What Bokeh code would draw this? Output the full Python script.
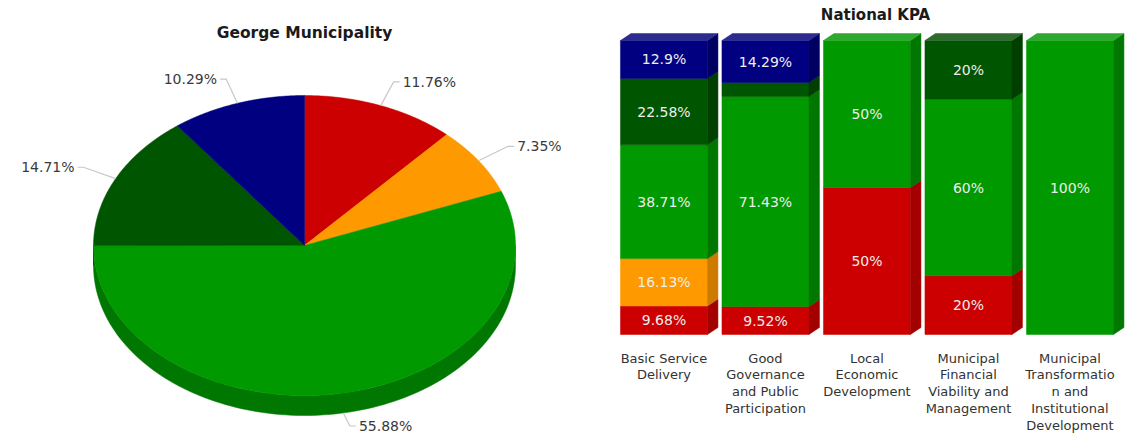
import numpy as np
from bokeh.plotting import figure
from bokeh.models import Range1d, ColumnDataSource
from bokeh.layouts import row
from bokeh.core.properties import value
from bokeh.embed import file_html
from bokeh.resources import INLINE

# ---- data -------------------------------------------------------------
statuses = ["Not Met", "Almost Met", "Met", "Well Met", "Extremely Well Met"]
front_colors = ["#CC0000", "#FF9900", "#009900", "#005500", "#000080"]
side_colors = ["#A30000", "#CC7A00", "#007700", "#003F00", "#000062"]
top_colors = ["#D83A3A", "#FFAD33", "#2EA82E", "#2F6B2F", "#2B2B90"]

# overall share of KPIs per status (George Municipality)
pie_values = [11.76, 7.35, 55.88, 14.71, 10.29]

# share of KPIs per status, per National KPA
kpas = [
    "Basic Service\nDelivery",
    "Good\nGovernance\nand Public\nParticipation",
    "Local\nEconomic\nDevelopment",
    "Municipal\nFinancial\nViability and\nManagement",
    "Municipal\nTransformatio\nn and\nInstitutional\nDevelopment",
]
not_met = [9.68, 9.52, 50, 20, 0]
almost_met = [16.13, 0, 0, 0, 0]
met = [38.71, 71.43, 50, 60, 100]
well_met = [22.58, 4.76, 0, 20, 0]
extremely_well_met = [12.9, 14.29, 0, 0, 0]
series = [not_met, almost_met, met, well_met, extremely_well_met]

FONT = "DejaVu Sans"
H = 435

# ---- pie (pseudo 3D, drawn in pixel-like units) -----------------------
PW = 605
pie = figure(width=PW, height=H, x_range=Range1d(0, PW), y_range=Range1d(H, 0),
             output_backend="svg", toolbar_location=None, min_border=0)
pie.axis.visible = False
pie.grid.visible = False
pie.outline_line_color = None

cx, cy, rx, ry, depth = 304, 245, 211, 150, 20
fracs = np.array(pie_values) / sum(pie_values)
starts = np.concatenate([[0], np.cumsum(fracs)[:-1]]) * 2 * np.pi
ends = np.cumsum(fracs) * 2 * np.pi


def ex(t, k=1.0):
    return cx + k * rx * np.sin(t)


def ey(t, k=1.0):
    return cy - k * ry * np.cos(t)


# visible rim: lower half of the ellipse (angles pi/2 .. 3pi/2, clockwise from top)
for a, b, c in zip(starts, ends, side_colors):
    lo, hi = max(a, np.pi / 2), min(b, 3 * np.pi / 2)
    if hi <= lo:
        continue
    t = np.linspace(lo, hi, 120)
    xs = list(ex(t)) + list(ex(t[::-1]))
    ys = list(ey(t)) + list(ey(t[::-1]) + depth)
    pie.patch(xs, ys, fill_color=c, line_color=c, line_width=0.5)

for a, b, c in zip(starts, ends, front_colors):
    t = np.linspace(a, b, 160)
    xs = [cx] + list(ex(t))
    ys = [cy] + list(ey(t))
    pie.patch(xs, ys, fill_color=c, line_color=c, line_width=0.5)

# connectors and labels
lx, ly, lal = [], [], []
for a, b, v in zip(starts, ends, pie_values):
    m = (a + b) / 2
    s, co = np.sin(m), np.cos(m)
    extra = depth if co < 0 else 0
    x0, y0 = ex(m), ey(m) + extra
    x1, y1 = ex(m, 1.17), ey(m, 1.17) + extra * 0.4
    d = 1 if s >= 0 else -1
    x2 = x1 + 6 * d
    pie.line([x0, x1, x2], [y0, y1, y1], line_color="#C8C8C8", line_width=1.2)
    lx.append(x2 + 3 * d)
    ly.append(y1)
    lal.append("left" if d > 0 else "right")
pie.text(x=lx, y=ly, text=[f"{v:g}%" for v in pie_values], text_align=lal,
         text_baseline="middle", text_font=value(FONT), text_font_size="14px",
         text_color="#3a3a3a")
pie.text(x=[cx], y=[32], text=["George Municipality"], text_align="center",
         text_baseline="middle", text_font=value(FONT), text_font_size="15.5px",
         text_font_style="bold", text_color="#1a1a1a")

# ---- stacked 3D columns ----------------------------------------------
BW = 1135 - PW
px_per_unit_x = 101.5
px_per_unit_y = 2.94
x0_range = -0.576
x_end = x0_range + BW / px_per_unit_x
y_start = -(H - 334) / px_per_unit_y
y_end = 100 + 40 / px_per_unit_y

bar = figure(width=BW, height=H, x_range=Range1d(x0_range, x_end),
             y_range=Range1d(y_start, y_end), output_backend="svg",
             toolbar_location=None, min_border=0)
bar.axis.visible = False
bar.grid.visible = False
bar.outline_line_color = None

w = 87 / px_per_unit_x
dx = 10.5 / px_per_unit_x
dy = 7 / px_per_unit_y

cum = np.zeros(len(kpas))
tops = np.array([sum(s[i] for s in series) for i in range(len(kpas))])
lab_x, lab_y, lab_t = [], [], []
for vals, fc, sc, tc in zip(series, front_colors, side_colors, top_colors):
    vals = np.array(vals, dtype=float)
    xs_i = np.arange(len(kpas))
    keep = vals > 0
    src = ColumnDataSource(dict(left=xs_i[keep] - w / 2, right=xs_i[keep] + w / 2,
                                bottom=cum[keep], top=cum[keep] + vals[keep]))
    bar.quad(left="left", right="right", bottom="bottom", top="top", source=src,
             fill_color=fc, line_color=fc, line_width=0.5)
    side_x, side_y, top_x, top_y = [], [], [], []
    for i in np.where(keep)[0]:
        r = i + w / 2
        l = i - w / 2
        b0, b1 = cum[i], cum[i] + vals[i]
        side_x.append([r, r + dx, r + dx, r])
        side_y.append([b0, b0 + dy, b1 + dy, b1])
        if np.isclose(b1, tops[i]):
            top_x.append([l, l + dx, r + dx, r])
            top_y.append([b1, b1 + dy, b1 + dy, b1])
        if vals[i] >= 8:
            lab_x.append(i)
            lab_y.append((b0 + b1) / 2)
            lab_t.append(f"{vals[i]:g}%")
    bar.patches(side_x, side_y, fill_color=sc, line_color=sc, line_width=0.5)
    if top_x:
        bar.patches(top_x, top_y, fill_color=tc, line_color=tc, line_width=0.5)
    cum = cum + vals

bar.text(x=lab_x, y=lab_y, text=lab_t, text_align="center", text_baseline="middle",
         text_font=value(FONT), text_font_size="14px", text_color="#EEEEEE")

bar.text(x=list(range(len(kpas))), y=[-(350 - 334) / px_per_unit_y] * len(kpas),
         text=kpas, text_align="center", text_baseline="top",
         text_font=value(FONT), text_font_size="13px", text_line_height=1.12,
         text_color="#333333")

bar.text(x=[x0_range + (875 - PW) / px_per_unit_x], y=[100 + (40 - 14) / px_per_unit_y],
         text=["National KPA"], text_align="center", text_baseline="middle",
         text_font=value(FONT), text_font_size="15px", text_font_style="bold",
         text_color="#1a1a1a")

p = row(pie, bar, spacing=0)
open("out.html", "w").write(file_html(p, INLINE))
